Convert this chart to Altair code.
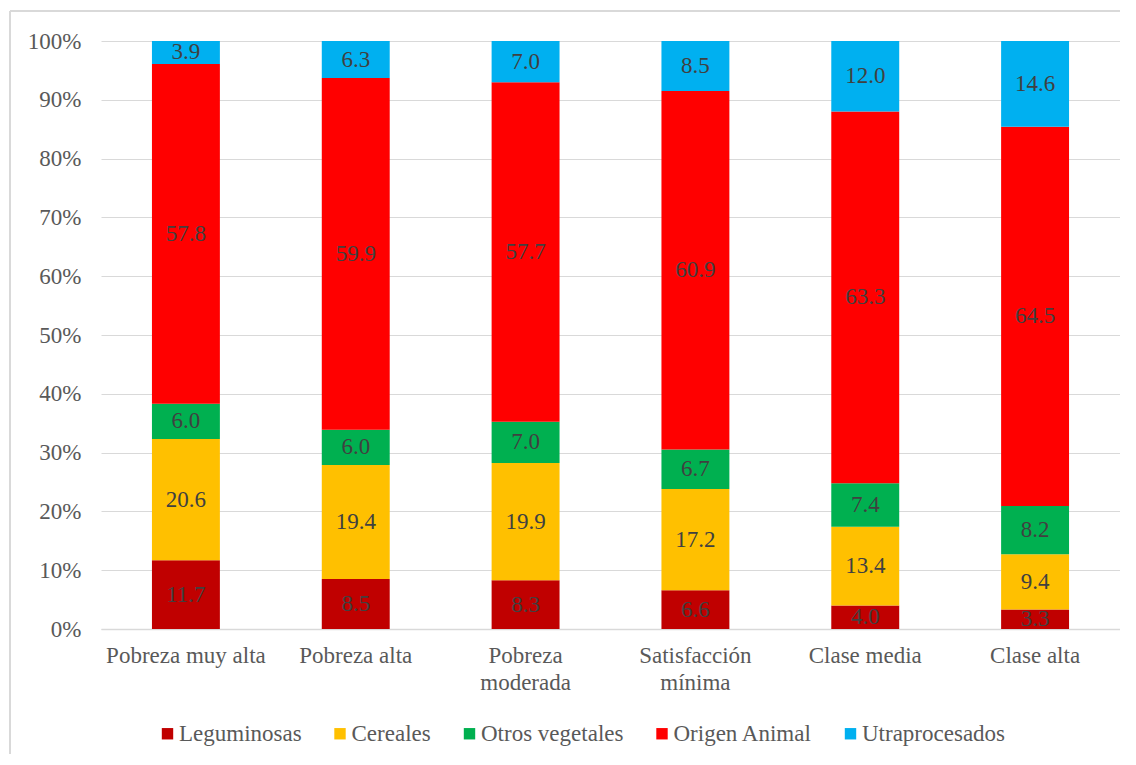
import altair as alt
import pandas as pd

categories = ["Pobreza muy alta", "Pobreza alta", "Pobreza moderada",
              "Satisfacción mínima", "Clase media", "Clase alta"]
series = ["Leguminosas", "Cereales", "Otros vegetales", "Origen Animal", "Utraprocesados"]
colors = ["#C00000", "#FFC000", "#00B050", "#FF0000", "#00B0F0"]

leguminosas = [11.7, 8.5, 8.3, 6.6, 4.0, 3.3]
cereales = [20.6, 19.4, 19.9, 17.2, 13.4, 9.4]
otros_vegetales = [6.0, 6.0, 7.0, 6.7, 7.4, 8.2]
origen_animal = [57.8, 59.9, 57.7, 60.9, 63.3, 64.5]
utraprocesados = [3.9, 6.3, 7.0, 8.5, 12.0, 14.6]

values = [leguminosas, cereales, otros_vegetales, origen_animal, utraprocesados]
rows = []
for si, (s, vals) in enumerate(zip(series, values)):
    for c, v in zip(categories, vals):
        rows.append({"Categoria": c, "Serie": s, "orden": si, "valor": v})
df = pd.DataFrame(rows)

FONT = "Liberation Serif"
GRAY = "#595959"
FS = 23

label_expr = ("datum.value == 'Pobreza moderada' ? ['Pobreza', 'moderada'] : "
              "datum.value == 'Satisfacción mínima' ? ['Satisfacción', 'mínima'] : datum.value")

base = alt.Chart(df).transform_stack(
    stack="valor", groupby=["Categoria"], as_=["y0", "y1"],
    offset="normalize", sort=[alt.SortField("orden", order="ascending")]
).transform_calculate(mid="(datum.y0 + datum.y1) / 2")

xenc = alt.X("Categoria:N", sort=categories, title=None,
             scale=alt.Scale(paddingInner=0.6, paddingOuter=0.3),
             axis=alt.Axis(labelAngle=0, labelExpr=label_expr, labelFont=FONT,
                           labelFontSize=FS, labelColor=GRAY, labelPadding=15,
                           labelLineHeight=27, ticks=False, domainColor="#d9d9d9",
                           domainWidth=1.5, grid=False))

bars = base.mark_bar().encode(
    x=xenc,
    y=alt.Y("y0:Q", scale=alt.Scale(domain=[0, 1]), title=None,
            axis=alt.Axis(format=".0%", values=[i / 10 for i in range(11)],
                          labelFont=FONT, labelFontSize=FS, labelColor=GRAY,
                          labelPadding=20, ticks=False, domain=False,
                          gridColor="#d9d9d9", gridWidth=1.2)),
    y2="y1:Q",
    color=alt.Color("Serie:N", sort=series,
                    scale=alt.Scale(domain=series, range=colors),
                    legend=alt.Legend(title=None, orient="none", direction="horizontal",
                                      legendX=55, legendY=681, columns=5,
                                      labelFont=FONT, labelFontSize=FS, labelColor=GRAY,
                                      symbolType="square", symbolSize=130,
                                      symbolStrokeWidth=0, labelOffset=0,
                                      columnPadding=26.5)),
)

labels = base.mark_text(font=FONT, fontSize=FS, color="#404040", baseline="middle").encode(
    x=alt.X("Categoria:N", sort=categories),
    y=alt.Y("mid:Q"),
    text=alt.Text("valor:Q", format=".1f"),
)

frame = pd.DataFrame({"b": [0]})
left_line = alt.Chart(frame).mark_rule(color="#d9d9d9", strokeWidth=2, clip=False).encode(
    x=alt.value(-91), y=alt.value(-30), y2=alt.value(740))
top_line = alt.Chart(frame).mark_rule(color="#d9d9d9", strokeWidth=2, clip=False).encode(
    x=alt.value(-91), x2=alt.value(1040), y=alt.value(-30))

chart = alt.layer(left_line, top_line, bars, labels).properties(
    width=1019, height=588,
    padding={"left": 93, "top": 33, "right": 0, "bottom": 125},
    autosize=alt.AutoSizeParams(type="none"),
).configure_view(stroke=None)

chart.save("out.html", embed_options={"renderer": "svg", "actions": False})
